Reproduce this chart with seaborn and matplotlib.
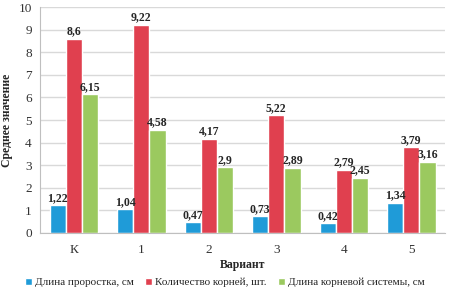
import numpy as np
import pandas as pd
import matplotlib
matplotlib.use("Agg")
import matplotlib.pyplot as plt
import seaborn as sns

variants = ["К", "1", "2", "3", "4", "5"]
sprout_len = [1.22, 1.04, 0.47, 0.73, 0.42, 1.34]
root_count = [8.6, 9.22, 4.17, 5.22, 2.79, 3.79]
root_len = [6.15, 4.58, 2.9, 2.89, 2.45, 3.16]
series = ["Длина проростка, см", "Количество корней, шт.", "Длина корневой системы, см"]
colors = ["#1f9bd8", "#e0404f", "#9bc95f"]

df = pd.DataFrame({
    "Вариант": variants * 3,
    "value": sprout_len + root_count + root_len,
    "series": [series[0]] * 6 + [series[1]] * 6 + [series[2]] * 6,
})

sns.set_style("white")
plt.rcParams['font.family'] = ['Liberation Serif', 'DejaVu Serif']

fig = plt.figure(figsize=(4.5, 2.96), dpi=100)
ax = fig.add_axes([0.089, 0.213, 0.9, 0.763])
sns.barplot(data=df, x="Вариант", y="value", hue="series", palette=colors,
            width=0.72, saturation=1, ax=ax, legend=True)

for cont in ax.containers:
    labels = [("%g" % v).replace(".", ",") for v in cont.datavalues]
    ax.bar_label(cont, labels=labels, padding=1, fontsize=8.5, fontweight="bold")

ax.set_ylim(0, 10)
ax.set_yticks(range(0, 11))
ax.yaxis.grid(True, color="#d9d9d9", linewidth=1)
ax.set_axisbelow(True)
for s in ["top", "right"]:
    ax.spines[s].set_visible(False)
ax.spines["left"].set_color("#bfbfbf")
ax.spines["bottom"].set_color("#bfbfbf")
ax.tick_params(labelsize=9.5, length=0, colors="#333333")
ax.tick_params(axis="x", pad=8)
ax.tick_params(axis="y", pad=6)
ax.set_xlabel("Вариант", fontsize=8.5, fontweight="bold", labelpad=2)
ax.set_ylabel("Среднее значение", fontsize=8.5, fontweight="bold", labelpad=4)

h, l = ax.get_legend_handles_labels()
ax.legend_.remove()
fig.legend(h, l, loc="lower center", bbox_to_anchor=(0.5, -0.005), ncol=3, frameon=False,
           fontsize=8, handlelength=0.6, handleheight=0.7, handletextpad=0.3,
           columnspacing=1.0)

fig.savefig("out.png", dpi=100)
